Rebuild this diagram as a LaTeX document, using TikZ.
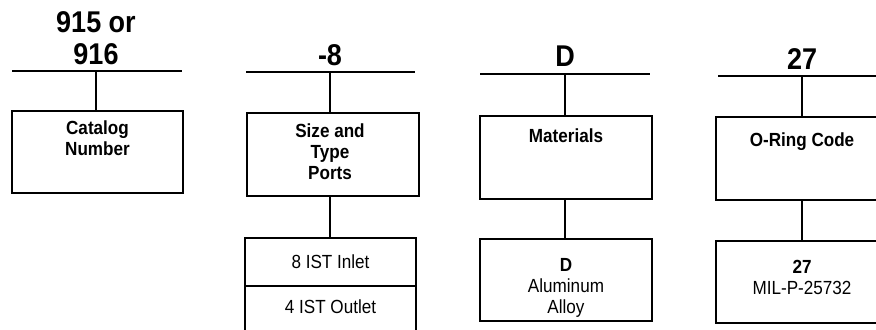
\documentclass[tikz,border=0pt]{standalone}
\usepackage{fontspec}
\setmainfont{Liberation Sans}[FakeStretch=0.9]
\usetikzlibrary{positioning}

\tikzset{
  hdrule/.style={line width=0.7pt},
  keybox/.style={draw, line width=0.7pt, minimum width=86pt, minimum height=41.5pt,
    inner sep=0pt, outer sep=0pt, anchor=north},
  cellbox/.style={draw, line width=0.7pt, minimum width=85.5pt, minimum height=24pt,
    inner sep=0pt, outer sep=0pt, anchor=north, font=\fontsize{9.5}{10.5}\selectfont},
  hdtext/.style={anchor=south, align=center, inner sep=0pt,
    font=\fontsize{15}{16}\selectfont\bfseries},
  boxtitle/.style={align=center, inner sep=0pt, font=\fontsize{9.5}{10.5}\selectfont\bfseries},
  boxtext/.style={align=center, inner sep=0pt, font=\fontsize{9.5}{10.5}\selectfont},
}

\begin{document}
\begin{tikzpicture}[x=0.5pt,y=-0.5pt]
\useasboundingbox (0,0) rectangle (876,329);
\clip (0,0) rectangle (876,329);

% code values over the rules
\node[hdtext] (hd1) at (96,65) {915 or\\916};
\node[hdtext] (hd2) at (330,66) {-8};
\node[hdtext] (hd3) at (565,67) {D};
\node[hdtext] (hd4) at (802,70) {27};

\foreach \n/\xl/\xm/\xr/\y in {1/12/96/182/71, 2/246/330/415/72, 3/480/565/650/74, 4/718/802/888/76} {
  \coordinate (rl\n) at (\xl,\y);
  \coordinate (rm\n) at (\xm,\y);
  \coordinate (rr\n) at (\xr,\y);
  \draw[hdrule] (rl\n) -- (rr\n);
}

% key boxes
\node[keybox, minimum width=85.5pt, minimum height=41pt] (cat) at (97.5,111) {};
\node[keybox] (size) at (333,113) {};
\node[keybox] (mat) at (566,116) {};
\node[keybox] (oring) at (802,117) {};

\node[boxtitle, below=4.5pt of cat.north] (cattitle) {Catalog\\Number};
\node[boxtitle, below=5pt of size.north, xshift=-1.5pt] (sizetitle) {Size and\\Type\\Ports};
\node[boxtitle, below=6pt of mat.north] (mattitle) {Materials};
\node[boxtitle, below=7.5pt of oring.north] (oringtitle) {O-Ring Code};

\foreach \n/\b in {1/cat, 2/size, 3/mat, 4/oring}
  \draw[hdrule] (rm\n) -- (rm\n |- \b.north);

% option cells
\node[cellbox] (inlet) at (330.5,238) {8 IST Inlet};
\node[cellbox, minimum height=40pt] (outlet) at (inlet.south) {};
\node[boxtext] (outlettext) at (330.5,307) {4 IST Outlet};

\node[keybox, minimum height=41pt] (alloy) at (566,239) {};
\node[boxtext, below=9.5pt of alloy.north] (alloytext) {\textbf{D}\\Aluminum\\Alloy};

\node[keybox, minimum height=41pt] (milspec) at (802,241) {};
\node[boxtext, below=9.5pt of milspec.north] (miltext) {\textbf{27}\\MIL-P-25732};

\draw[hdrule] (rm2 |- size.south) -- (rm2 |- inlet.north);
\draw[hdrule] (rm3 |- mat.south) -- (rm3 |- alloy.north);
\draw[hdrule] (rm4 |- oring.south) -- (rm4 |- milspec.north);
\end{tikzpicture}
\end{document}
